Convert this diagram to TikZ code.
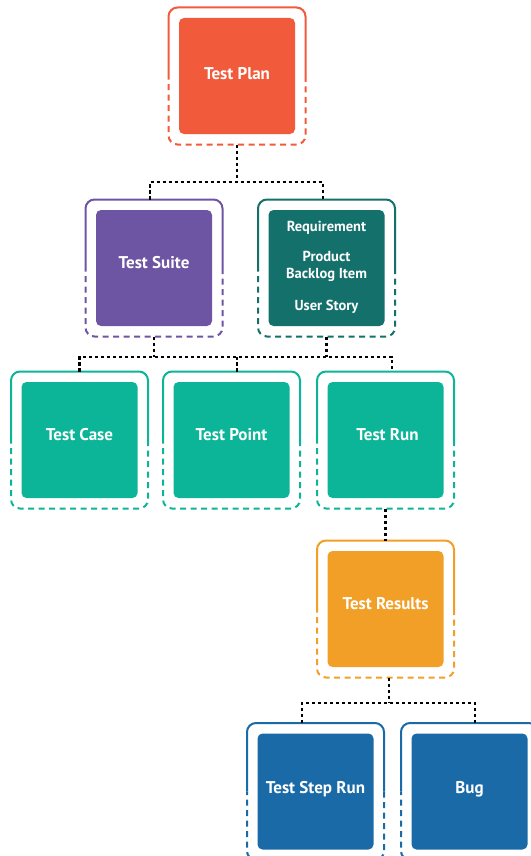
\documentclass[tikz,border=0pt]{standalone}
\usepackage{fontspec}
\setmainfont{PT Sans}
\definecolor{cPlan}{HTML}{F15A3A}
\definecolor{cSuite}{HTML}{6E55A3}
\definecolor{cReq}{HTML}{13706A}
\definecolor{cCase}{HTML}{0CB598}
\definecolor{cRes}{HTML}{F29F27}
\definecolor{cBug}{HTML}{1A6AA8}
\newcommand\halfdashframe[2]{%
  \draw[#2, line width=2pt, rounded corners=9pt] (#1.west) |- (#1.north) -| (#1.east);
  \draw[#2, line width=2pt, dash pattern=on 6pt off 4.5pt, rounded corners=9pt] (#1.east) |- (#1.south) -| (#1.west);
}
\begin{document}
\begin{tikzpicture}[x=1pt,y=-1pt,
  frm/.style={minimum size=137pt, inner sep=0pt, outer sep=0pt},
  ib/.style={minimum size=116pt, inner sep=0pt, rounded corners=5pt},
  lbl/.style={text=white, font=\fontsize{17}{20}\selectfont\bfseries, inner sep=0pt, align=center},
  small/.style={text=white, font=\fontsize{14.5}{17}\selectfont\bfseries, inner sep=0pt, align=center},
  conn/.style={black, line width=2.2pt, dash pattern=on 3.2pt off 2.8pt}]
\useasboundingbox (0,0) rectangle (530,856);

% frames
\node[frm] (planF)  at (237,76)    {};
\node[frm] (suiteF) at (154,268)   {};
\node[frm] (reqF)   at (326.5,268) {};
\node[frm] (caseF)  at (79.5,440)  {};
\node[frm] (pointF) at (231.5,440) {};
\node[frm] (runF)   at (385.5,440) {};
\node[frm] (resF)   at (385.5,609) {};
\node[frm] (stepF)  at (315.5,791.5) {};
\node[frm] (bugF)   at (469.5,791.5) {};

\halfdashframe{planF}{cPlan}
\halfdashframe{suiteF}{cSuite}
\halfdashframe{reqF}{cReq}
\halfdashframe{caseF}{cCase}
\halfdashframe{pointF}{cCase}
\halfdashframe{runF}{cCase}
\halfdashframe{resF}{cRes}
\halfdashframe{stepF}{cBug}
\halfdashframe{bugF}{cBug}

% inner boxes
\node[ib, fill=cPlan]  (plan)  at (planF)  {};
\node[ib, fill=cSuite] (suite) at (suiteF) {};
\node[ib, fill=cReq]   (req)   at (reqF)   {};
\node[ib, fill=cCase]  (case)  at (caseF)  {};
\node[ib, fill=cCase]  (point) at (pointF) {};
\node[ib, fill=cCase]  (run)   at (runF)   {};
\node[ib, fill=cRes]   (res)   at (resF)   {};
\node[ib, fill=cBug]   (step)  at (stepF)  {};
\node[ib, fill=cBug]   (bug)   at (bugF)   {};

% labels
\node[lbl] (planT)  at ([yshift=2pt]plan.center)  {Test Plan};
\node[lbl] (suiteT) at ([yshift=5pt]suite.center) {Test Suite};
\node[lbl] (caseT)  at ([yshift=5pt]case.center)  {Test Case};
\node[lbl] (pointT) at ([yshift=5pt]point.center) {Test Point};
\node[lbl] (runT)   at ([xshift=2pt,yshift=5pt]run.center) {Test Run};
\node[lbl] (resT)   at ([yshift=5pt]res.center)   {Test Results};
\node[lbl] (stepT)  at ([yshift=2pt]step.center)  {Test Step Run};
\node[lbl] (bugT)   at ([yshift=2pt]bug.center)   {Bug};
\node[small] (reqT) at ([yshift=1pt]req.center)
  {Requirement\\[13pt]Product\\Backlog Item\\[15pt]User Story};

% connectors
\coordinate (h1) at (237,182);
\coordinate (h2) at (237,357);
\coordinate (h3) at (389,703);
\draw[conn] (planF.south) -- (h1);
\draw[conn] ([xshift=-4pt]suiteF.north) |- (h1) -| ([xshift=-3.5pt]reqF.north);
\draw[conn] (suiteF.south) -- (suiteF.south |- h2);
\draw[conn] (reqF.south) -- (reqF.south |- h2);
\draw[conn] (caseF.north) |- (h2) -| ([xshift=6.5pt]runF.north);
\draw[conn] ([xshift=5.5pt]pointF.north) -- (h2);
\draw[conn] (runF.south) -- (resF.north);
\draw[conn] ([xshift=3.5pt]resF.south) -- (h3);
\draw[conn] ([xshift=-13.5pt]stepF.north) |- (h3) -| ([xshift=5.5pt]bugF.north);
\end{tikzpicture}
\end{document}
